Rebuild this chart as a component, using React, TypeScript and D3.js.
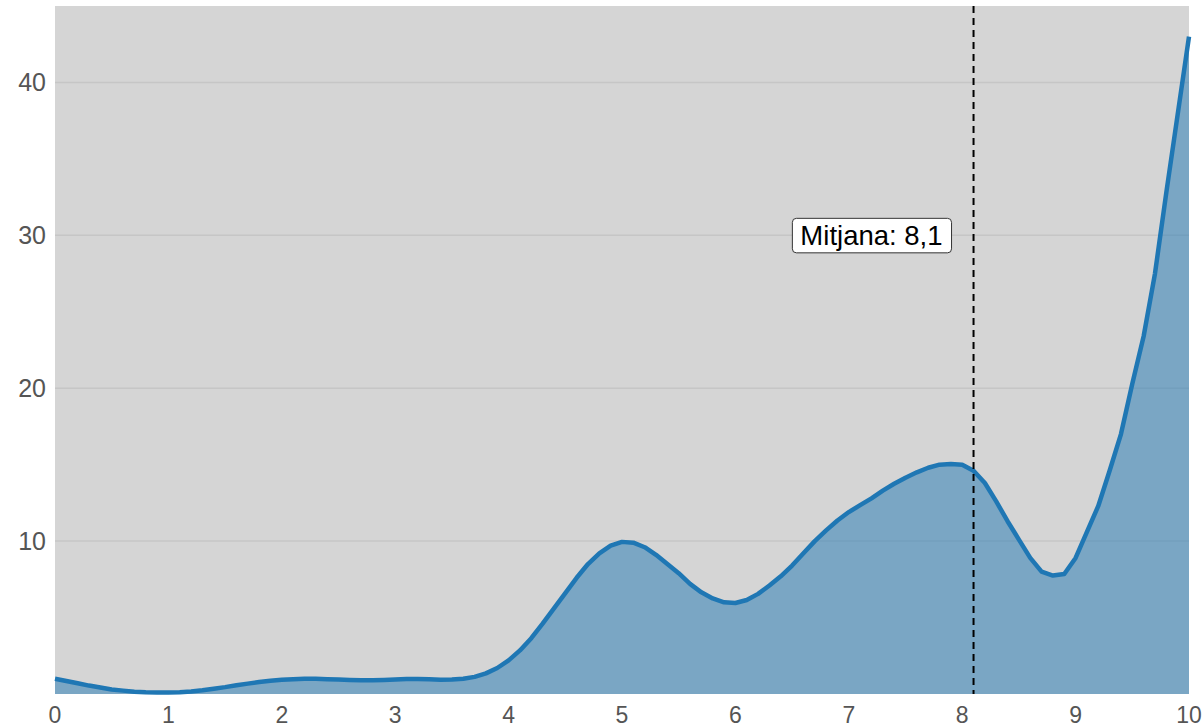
import React, { useEffect, useRef } from "react";
import * as d3 from "d3";

const xValues: number[] = [
  0.0, 0.1, 0.2, 0.3, 0.4, 0.5, 0.6, 0.7, 0.8, 0.9,
  1.0, 1.1, 1.2, 1.3, 1.4, 1.5, 1.6, 1.7, 1.8, 1.9,
  2.0, 2.1, 2.2, 2.3, 2.4, 2.5, 2.6, 2.7, 2.8, 2.9,
  3.0, 3.1, 3.2, 3.3, 3.4, 3.5, 3.6, 3.7, 3.8, 3.9,
  4.0, 4.1, 4.2, 4.3, 4.4, 4.5, 4.6, 4.7, 4.8, 4.9,
  5.0, 5.1, 5.2, 5.3, 5.4, 5.5, 5.6, 5.7, 5.8, 5.9,
  6.0, 6.1, 6.2, 6.3, 6.4, 6.5, 6.6, 6.7, 6.8, 6.9,
  7.0, 7.1, 7.2, 7.3, 7.4, 7.5, 7.6, 7.7, 7.8, 7.9,
  8.0, 8.1, 8.2, 8.3, 8.4, 8.5, 8.6, 8.7, 8.8, 8.9,
  9.0, 9.1, 9.2, 9.3, 9.4, 9.5, 9.6, 9.7, 9.8, 9.9,
  10.0,
];

const densityValues: number[] = [
  1.0, 0.85, 0.7, 0.55, 0.42, 0.3, 0.22, 0.15, 0.11, 0.09,
  0.1, 0.12, 0.17, 0.25, 0.35, 0.45, 0.57, 0.68, 0.78, 0.87,
  0.93, 0.97, 0.99, 0.99, 0.97, 0.95, 0.92, 0.9, 0.9, 0.92,
  0.95, 0.98, 0.98, 0.96, 0.94, 0.95, 1.0, 1.12, 1.35, 1.7,
  2.2, 2.85, 3.65, 4.6, 5.6, 6.6, 7.6, 8.5, 9.2, 9.7,
  9.95, 9.9, 9.6, 9.1, 8.5, 7.9, 7.2, 6.65, 6.25, 6.0,
  5.95, 6.15, 6.55, 7.1, 7.7, 8.4, 9.2, 10.0, 10.7, 11.35,
  11.9, 12.35, 12.8, 13.3, 13.75, 14.15, 14.5, 14.8, 15.0, 15.05,
  15.0, 14.6, 13.8, 12.6, 11.3, 10.1, 8.9, 8.0, 7.75, 7.85,
  8.9, 10.6, 12.3, 14.6, 17.0, 20.3, 23.4, 27.5, 32.8, 37.9,
  43.0,
];

const xTicks: number[] = [0, 1, 2, 3, 4, 5, 6, 7, 8, 9, 10];
const yTicks: number[] = [10, 20, 30, 40];
const meanValue = 8.1;
const meanLabel = "Mitjana: 8,1";
const labelY = 30;

const W = 1204;
const H = 725;
const M = { left: 55, right: 1189, top: 6, bottom: 694 };

export default function App() {
  const ref = useRef<SVGSVGElement | null>(null);

  useEffect(() => {
    const svg = d3.select(ref.current);
    svg.selectAll("*").remove();

    const x = d3.scaleLinear().domain([0, 10]).range([M.left, M.right]);
    const y = d3.scaleLinear().domain([0, 45]).range([M.bottom, M.top]);

    const data = xValues.map((v, i) => ({ x: v, y: densityValues[i] }));

    svg
      .append("rect")
      .attr("x", M.left)
      .attr("y", M.top)
      .attr("width", M.right - M.left)
      .attr("height", M.bottom - M.top)
      .attr("fill", "#d5d5d5");

    svg
      .append("g")
      .selectAll("line")
      .data(yTicks)
      .join("line")
      .attr("x1", M.left)
      .attr("x2", M.right)
      .attr("y1", (d) => y(d))
      .attr("y2", (d) => y(d))
      .attr("stroke", "#c6c6c6")
      .attr("stroke-width", 1.5);

    const area = d3
      .area<{ x: number; y: number }>()
      .x((d) => x(d.x))
      .y0(y(0))
      .y1((d) => y(d.y));

    const line = d3
      .line<{ x: number; y: number }>()
      .x((d) => x(d.x))
      .y((d) => y(d.y));

    svg
      .append("path")
      .datum(data)
      .attr("d", area)
      .attr("fill", "#1f77b4")
      .attr("fill-opacity", 0.5);

    svg
      .append("path")
      .datum(data)
      .attr("d", line)
      .attr("fill", "none")
      .attr("stroke", "#1f77b4")
      .attr("stroke-width", 4.5)
      .attr("stroke-linejoin", "round");

    svg
      .append("line")
      .attr("x1", x(meanValue))
      .attr("x2", x(meanValue))
      .attr("y1", M.top)
      .attr("y2", M.bottom)
      .attr("stroke", "#000")
      .attr("stroke-width", 2)
      .attr("stroke-dasharray", "7,5");

    const font = "'Liberation Sans', Arial, sans-serif";

    svg
      .append("g")
      .selectAll("text")
      .data(yTicks)
      .join("text")
      .attr("x", M.left - 9)
      .attr("y", (d) => y(d))
      .attr("dy", "0.35em")
      .attr("text-anchor", "end")
      .attr("font-family", font)
      .attr("font-size", 25)
      .attr("fill", "#555")
      .text((d) => String(d));

    svg
      .append("g")
      .selectAll("text")
      .data(xTicks)
      .join("text")
      .attr("x", (d) => x(d))
      .attr("y", 714.5)
      .attr("dy", "0.35em")
      .attr("text-anchor", "middle")
      .attr("font-family", font)
      .attr("font-size", 23)
      .attr("fill", "#555")
      .text((d) => String(d));

    const lg = svg.append("g");
    const rect = lg.append("rect");
    const txt = lg
      .append("text")
      .attr("x", x(meanValue) - 31)
      .attr("y", y(labelY))
      .attr("dy", "0.35em")
      .attr("text-anchor", "end")
      .attr("font-family", font)
      .attr("font-size", 27.5)
      .attr("fill", "#000")
      .text(meanLabel);
    const bb = (txt.node() as SVGTextElement).getBBox();
    rect
      .attr("x", bb.x - 8)
      .attr("y", y(labelY) - 17)
      .attr("width", bb.width + 17)
      .attr("height", 34.5)
      .attr("rx", 4)
      .attr("fill", "#fff")
      .attr("stroke", "#333")
      .attr("stroke-width", 1);
  }, []);

  return (
    <svg
      ref={ref}
      width={W}
      height={H}
      style={{ position: "absolute", left: 0, top: 0, display: "block" }}
    />
  );
}
